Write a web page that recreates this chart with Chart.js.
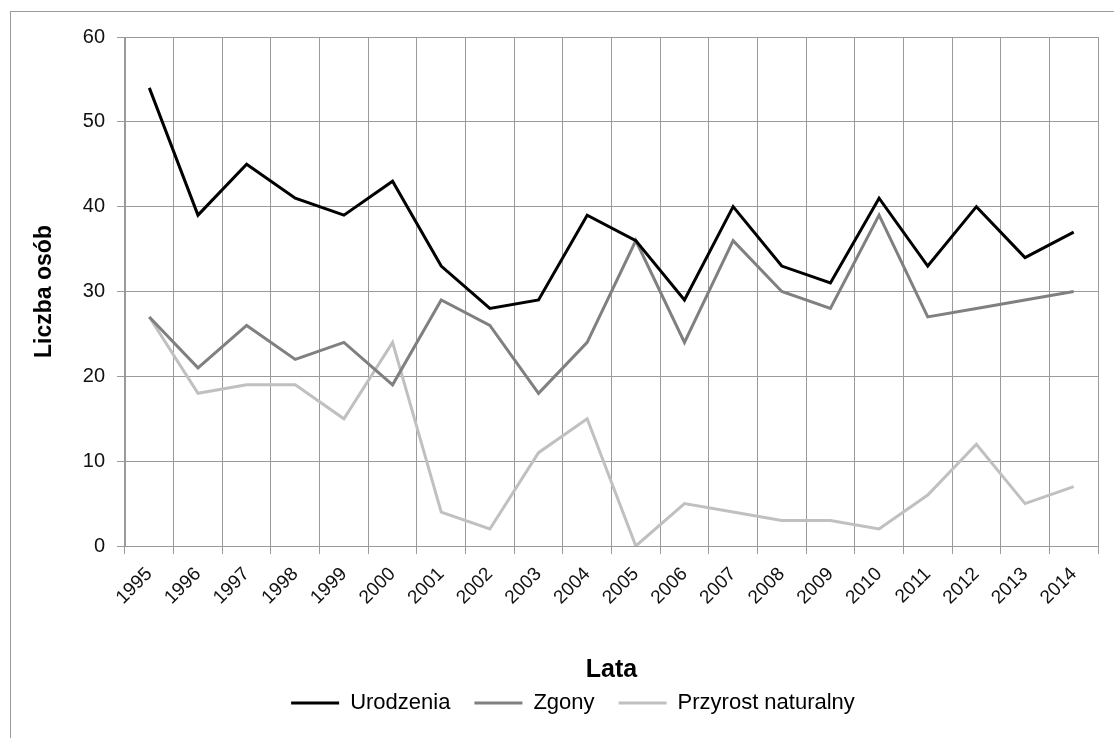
<!DOCTYPE html>
<html><head><meta charset="utf-8">
<script src="https://cdn.jsdelivr.net/npm/chart.js@4/dist/chart.umd.min.js"></script>
<style>
html,body{margin:0;padding:0;background:#fff;overflow:hidden;}
#frame{position:absolute;left:10px;top:11px;width:1200px;height:800px;border:1px solid #9a9a9a;box-sizing:border-box;}
#wrap{position:absolute;left:0;top:0;width:1114px;height:738px;}
</style></head><body>
<div id="frame"></div>
<div id="wrap"><canvas id="c" width="1114" height="738"></canvas></div>
<script>
const years = ['1995','1996','1997','1998','1999','2000','2001','2002','2003','2004','2005','2006','2007','2008','2009','2010','2011','2012','2013','2014'];
const urodzenia = [54,39,45,41,39,43,33,28,29,39,36,29,40,33,31,41,33,40,34,37];
const zgony = [27,21,26,22,24,19,29,26,18,24,36,24,36,30,28,39,27,28,29,30];
const przyrost = [27,18,19,19,15,24,4,2,11,15,0,5,4,3,3,2,6,12,5,7];
const seriesNames = ['Urodzenia','Zgony','Przyrost naturalny'];
const yMin = 0, yMax = 60, yStep = 10;

const FONT = "'Liberation Sans', Arial, sans-serif";
const GRID = '#9a9a9a';

new Chart(document.getElementById('c'), {
  type: 'line',
  data: {
    labels: years,
    datasets: [
      {label: seriesNames[0], data: urodzenia, borderColor: '#000000', backgroundColor: '#000000', borderWidth: 3, pointRadius: 0, tension: 0},
      {label: seriesNames[1], data: zgony, borderColor: '#808080', backgroundColor: '#808080', borderWidth: 3, pointRadius: 0, tension: 0},
      {label: seriesNames[2], data: przyrost, borderColor: '#c0c0c0', backgroundColor: '#c0c0c0', borderWidth: 3, pointRadius: 0, tension: 0}
    ]
  },
  options: {
    responsive: false,
    devicePixelRatio: 1,
    animation: false,
    layout: {padding: {left: 48, right: 16, top: 37, bottom: 14}},
    plugins: {
      tooltip: {enabled: false},
      legend: {
        position: 'bottom',
        labels: {
          font: {family: FONT, size: 22},
          color: '#000',
          usePointStyle: true,
          pointStyle: 'line',
          pointStyleWidth: 48,
          padding: 24
        }
      }
    },
    scales: {
      x: {
        offset: true,
        grid: {offset: true, color: GRID, lineWidth: 1, tickLength: 8, drawTicks: true},
        border: {color: GRID, width: 1},
        ticks: {font: {family: FONT, size: 19}, color: '#111', minRotation: 45, maxRotation: 45, padding: 9, autoSkip: false},
        title: {display: true, text: 'Lata', font: {family: FONT, size: 25, weight: 'bold', lineHeight: 1.2}, color: '#000', padding: {top: 0, bottom: -17}},
        afterFit(s) { s.height = 122; }
      },
      y: {
        min: yMin, max: yMax,
        grid: {color: GRID, lineWidth: 1, tickLength: 8},
        border: {color: GRID, width: 1},
        ticks: {stepSize: yStep, font: {family: FONT, size: 20}, color: '#111', padding: 12},
        title: {display: true, text: 'Liczba osób', font: {family: FONT, size: 23, weight: 'bold', lineHeight: 1.2}, color: '#000', padding: {top: -16.8, bottom: 0}},
        afterFit(s) { s.width = 77; }
      }
    }
  }
});
</script>
</body></html>
